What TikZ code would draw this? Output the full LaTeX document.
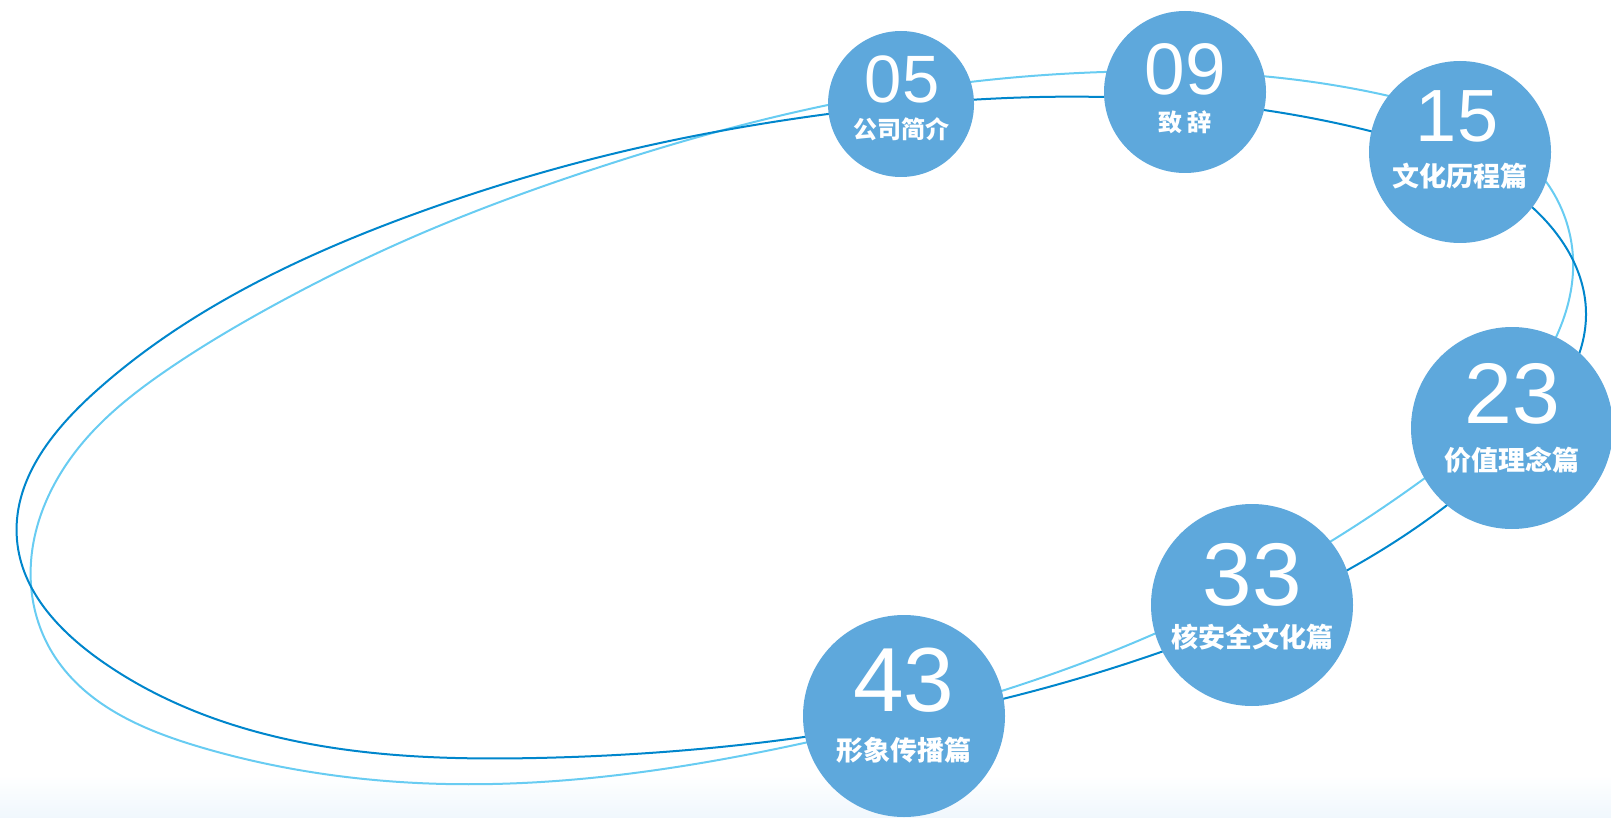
\documentclass[tikz,border=0pt]{standalone}
\usepackage{fontspec}
\setmainfont{Liberation Sans}
\newfontfamily\cjk{Noto Sans CJK SC}
\usetikzlibrary{hobby}
\definecolor{ballblue}{RGB}{94,168,220}
\definecolor{ringdark}{RGB}{0,134,204}
\definecolor{ringlight}{RGB}{104,204,242}
\definecolor{floorblue}{RGB}{240,247,253}

\begin{document}
\begin{tikzpicture}[x=0.5pt, y=-0.5pt,
    ball/.style={circle, fill=ballblue, inner sep=0pt},
    num/.style={text=white, inner sep=0pt, font=\fontsize{#1}{#1}\selectfont},
    lab/.style={text=white, inner sep=0pt, font=\cjk\bfseries\fontsize{#1}{#1}\selectfont},
    ring/.style={line width=1pt, use Hobby shortcut, closed=true}]
    \useasboundingbox (0,0) rectangle (1611,818);
    \shade[top color=white, bottom color=floorblue] (0,775) rectangle (1611,818);

    % the two rings
    \draw[ringlight, ring] (31,585) .. (85,440) .. (167,370) .. (267,309)
      .. (420,234) .. (600,167) .. (828,105) .. (1104,72) .. (1389,96)
      .. (1547,183) .. (1573,258) .. (1557,335) .. (1425,478) .. (1154,634)
      .. (804,743) .. (446,784) .. (200,747) .. (55,657);
    \draw[ringdark, ring] (17,540) .. (95,392) .. (267,277) .. (420,212)
      .. (600,157) .. (828,114) .. (1104,97) .. (1370,131) .. (1533,208)
      .. (1586,315) .. (1525,435) .. (1161,652) .. (804,737) .. (536,758)
      .. (250,730) .. (100,660);

    \node[ball, minimum size=73pt] (b05) at (901,104) {};
    \node[ball, minimum size=81pt] (b09) at (1185,92) {};
    \node[ball, minimum size=91pt] (b15) at (1460,152) {};
    \node[ball, minimum size=101pt] (b23) at (1512,428) {};
    \node[ball, minimum size=101pt] (b33) at (1252,605) {};
    \node[ball, minimum size=101pt] (b43) at (904,716) {};

    \node[num=33.5] (n05) at (902,79) {05};
    \node[lab=12] (t05) at (901,129) {公司简介};
    \node[num=36.5] (n09) at (1185,69) {09};
    \node[lab=12] (t09) at (1185,122) {致 辞};
    \node[num=37] (n15) at (1457,116) {15};
    \node[lab=13.5] (t15) at (1460,176) {文化历程篇};
    \node[num=43] (n23) at (1512,394) {23};
    \node[lab=13.5] (t23) at (1512,460) {价值理念篇};
    \node[num=44.5] (n33) at (1252,575) {33};
    \node[lab=13.5] (t33) at (1252,637) {核安全文化篇};
    \node[num=45.5] (n43) at (904,680) {43};
    \node[lab=13.5] (t43) at (904,750) {形象传播篇};
\end{tikzpicture}
\end{document}
